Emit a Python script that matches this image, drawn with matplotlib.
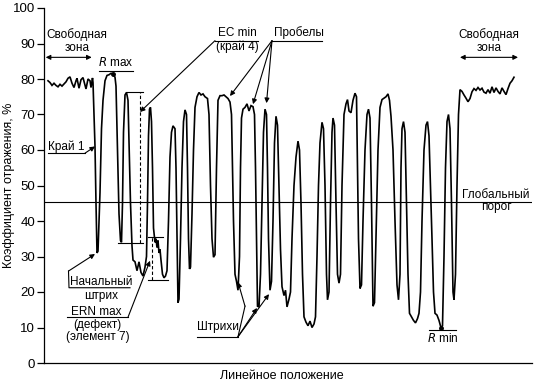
import matplotlib.pyplot as plt

plt.rcParams['font.family'] = ['Liberation Sans', 'DejaVu Sans']

# Профиль отражения при сканировании штрихового кода
position = [4, 6, 8, 10, 12, 14, 16, 18, 20, 22, 24, 26, 28, 30, 32, 33, 35, 37, 39, 41,
            42, 44, 46, 47, 48.5, 49, 50, 51, 52, 53, 54, 55, 56, 57.5, 59, 61, 63, 65, 67, 69,
            71, 72, 73.5, 75, 76.5, 77.5, 78.5, 79.5, 81, 82.5, 84, 85, 86.5, 88, 89, 91, 93, 95, 97, 99,
            101, 102.5, 103.5, 104.5, 105.5, 106.5, 107.5, 108.5, 109.5, 111, 112, 113, 114, 115, 116, 117, 118.5, 120, 121.5, 123,
            124.5, 126, 127.5, 129, 131, 132, 133, 134, 135, 136.5, 138, 139.5, 141, 142.5, 143.5, 144.5, 145.5, 146.5, 148, 149.5,
            151, 153, 155, 157, 159, 161, 163.5, 165, 166.5, 168, 169.5, 171, 172.5, 174, 176, 178, 180, 182, 184, 186,
            187.5, 188.5, 189.5, 191, 192.5, 194, 195.5, 196.5, 197.5, 199, 201, 203, 205, 207, 209, 210.5, 211.5, 212.5, 213.5, 215,
            216.5, 218, 219.5, 221, 222.5, 223.5, 224.5, 226, 227.5, 229, 230.5, 232, 233.5, 235, 236.5, 238, 240, 241.5, 243, 245,
            246.5, 248, 250, 252, 254, 255.5, 257, 258.5, 260, 262, 264, 266, 268, 270, 271.5, 273, 274.5, 276, 278, 279.5,
            281, 282.5, 283.5, 285, 286.5, 288, 289, 290.5, 292, 293.5, 295, 296.5, 298, 300, 302, 303.5, 305, 307, 309, 311,
            312.5, 313.5, 314.5, 316, 317.5, 319, 321, 323, 324.5, 326, 327.5, 329, 330.5, 332, 334, 336, 338, 340, 342, 344,
            345.5, 347, 349, 351, 353, 354.5, 356, 357, 358, 359.5, 361, 362.5, 364, 365.5, 367.5, 369.5, 371.5, 373.5, 375, 376.5,
            378, 380, 382, 383.5, 385, 386.5, 388, 389.5, 391, 393, 395, 397, 398.5, 400, 401.5, 403, 404.5, 406, 407.5, 409,
            410, 411.5, 413, 414.5, 416, 418, 420, 422, 424, 426, 428, 430, 432, 434, 436, 438, 440, 442, 444, 446,
            448, 450, 452, 454, 456, 458, 460, 462, 464, 466, 468, 470]
reflectance = [79.5, 79.0, 78.2, 78.8, 78.2, 77.8, 78.5, 78.0, 78.6, 79.2, 80.2, 80.6, 78.8, 77.6, 79.5, 80.2, 77.4, 79.8, 80.4, 78.3,
               77.2, 80.0, 79.5, 77.6, 80.3, 79.0, 70, 61, 45, 31, 31.5, 40, 48, 66, 74, 79.5, 81, 81.2, 81.6, 81.5,
               80.5, 78, 60, 42, 34.5, 34, 45, 65, 75.5, 76.2, 74, 62, 45, 33, 29, 28.5, 26, 28.5, 25.5, 24.5,
               27, 30, 45, 64, 71.5, 72, 68, 55, 38, 34, 35, 32.5, 34.5, 31, 32, 29, 25, 24, 24.5, 26,
               40, 58, 65, 66.8, 66, 55, 35, 17, 18, 35, 55, 68, 71.3, 70, 55, 35, 26.5, 27, 42, 60,
               72, 75, 76.2, 75.5, 75.8, 75, 74.5, 70, 50, 35, 29.8, 30.5, 55, 74, 75.3, 75.3, 75.5, 75, 74.5, 73.5,
               70, 55, 40, 25, 23, 20.5, 30, 55, 69, 71.5, 72, 73, 71, 72.5, 72.2, 70, 55, 35, 16, 15.8,
               25, 45, 65, 71.5, 70, 55, 35, 20.5, 23, 40, 62, 69.5, 67, 50, 32, 21.5, 19, 20.5, 15.8, 18,
               20, 35, 50, 58, 62.5, 60, 45, 25, 13, 11.5, 10.5, 11.8, 10, 11, 13, 30, 50, 62, 67.8, 66,
               50, 25, 17.8, 20, 45, 65, 69, 67, 45, 25, 22.5, 25, 50, 70, 73, 74.2, 71, 70.5, 74, 76,
               75, 55, 35, 21, 22, 40, 60, 70, 71.5, 69, 45, 16, 17, 35, 60, 72, 74.2, 74.6, 75, 75.8,
               74, 69.5, 60, 40, 22, 17.8, 25, 55, 66, 68, 65, 45, 25, 14, 13, 12, 11.3, 12.5, 14, 20,
               40, 60, 67, 68, 64, 50, 35, 20, 14, 13.5, 12, 9.9, 10.5, 30, 55, 68, 70, 66, 45, 20,
               17.8, 25, 50, 70, 77, 76.5, 75.5, 74.6, 73.6, 74.5, 76.4, 77.3, 76.8, 77.6, 76.9, 77.4, 76.3, 76.0, 77.0, 76.0,
               77.8, 76.2, 77.5, 76.5, 75.8, 77.5, 76.5, 75.6, 77.3, 78.8, 79.5, 80.5]

global_threshold = 45.4
r_max_point = (69, 81.5)
r_min_point = (397, 9.9)

fig = plt.figure(figsize=(5.35, 3.84), dpi=100)
ax = fig.add_axes([44 / 535, 21 / 384, 488 / 535, 355 / 384])

ax.plot(position, reflectance, color='black', lw=1.2, solid_joinstyle='miter')
ax.axhline(global_threshold, color='black', lw=0.8)

ax.set_xlim(0, 488)
ax.set_ylim(0, 100)
ax.set_yticks(range(0, 101, 10))
ax.set_xticks([])
ax.tick_params(axis='y', direction='out', length=5, width=0.9, labelsize=9.5, pad=1.5)
ax.spines['top'].set_visible(False)
ax.spines['right'].set_visible(False)
ax.spines['left'].set_linewidth(0.9)
ax.spines['bottom'].set_linewidth(0.9)
ax.set_ylabel('Коэффициент отражения, %', fontsize=9, va='center')
ax.yaxis.set_label_coords(-35 / 488, 0.5)
ax.set_xlabel('Линейное положение', fontsize=9)
ax.xaxis.set_label_coords(238 / 488, -0.02)

fs = 8.5
line_kw = dict(color='black', lw=0.8)
arrow_kw = dict(arrowstyle='-|>', mutation_scale=7, lw=0.8, color='black', shrinkA=0, shrinkB=0)
both_kw = dict(arrowstyle='<|-|>', mutation_scale=7, lw=0.8, color='black', shrinkA=0, shrinkB=0)

# Свободные зоны
ax.text(33, 90.8, 'Свободная\nзона', ha='center', va='center', fontsize=fs, linespacing=1.1)
ax.annotate('', xy=(1.7, 86.1), xytext=(47.7, 86.1), arrowprops=both_kw)
ax.text(445, 90.8, 'Свободная\nзона', ha='center', va='center', fontsize=fs, linespacing=1.1)
ax.annotate('', xy=(416, 86.1), xytext=(474, 86.1), arrowprops=both_kw)

# R max
ax.text(72, 84.6, r'$\it{R}$ max', ha='center', va='center', fontsize=fs)
ax.plot([55, 89], [82.3, 82.3], **line_kw)
ax.plot(*r_max_point, 'ko', ms=2.5)

# Край 1
ax.text(4, 60.8, 'Край 1', ha='left', va='center', fontsize=fs)
ax.plot([4, 41], [59.1, 59.1], **line_kw)
ax.annotate('', xy=(51, 61), xytext=(41, 59.1), arrowprops=arrow_kw)

# контраст края: прямоугольник
ax.plot([82, 99], [76.3, 76.3], **line_kw)
ax.plot([74, 99], [33.8, 33.8], **line_kw)
ax.plot([95.5, 95.5], [33.8, 76.3], color='black', lw=0.8, ls=(0, (3, 2)))

# ERN max: прямоугольник
ax.plot([104, 119], [35.5, 35.5], **line_kw)
ax.plot([104, 124], [23.4, 23.4], **line_kw)
ax.plot([108, 108], [23.4, 35.5], color='black', lw=0.8, ls=(0, (3, 2)))

# EC min
ax.text(193, 93.0, 'EC min', ha='center', va='center', fontsize=fs)
ax.text(193.5, 89.1, '(край 4)', ha='center', va='center', fontsize=fs)
ax.plot([171, 214], [90.8, 90.8], **line_kw)
ax.annotate('', xy=(96, 70.7), xytext=(171, 90.8), arrowprops=arrow_kw)

# Пробелы
ax.text(255, 93.0, 'Пробелы', ha='center', va='center', fontsize=fs)
ax.plot([228, 278], [90.8, 90.8], **line_kw)
for tip in [(186, 75.2), (209, 72.9), (222.5, 73.2)]:
    ax.annotate('', xy=tip, xytext=(228, 90.8), arrowprops=arrow_kw)

# Начальный штрих
ax.text(57.5, 22.8, 'Начальный', ha='center', va='center', fontsize=fs)
ax.text(57.5, 19.0, 'штрих', ha='center', va='center', fontsize=fs)
ax.plot([86, 25, 24.5], [21.2, 21.2, 25.9], **line_kw)
ax.annotate('', xy=(51, 30.7), xytext=(24.5, 25.9), arrowprops=arrow_kw)

# ERN max
ax.text(52.5, 14.4, 'ERN max', ha='center', va='center', fontsize=fs)
ax.text(53.5, 10.7, '(дефект)', ha='center', va='center', fontsize=fs)
ax.text(53.5, 7.3, '(элемент 7)', ha='center', va='center', fontsize=fs)
ax.plot([23, 84], [12.9, 12.9], **line_kw)
ax.annotate('', xy=(106, 28.8), xytext=(84, 12.9), arrowprops=arrow_kw)

# Штрихи
ax.text(173.5, 10.2, 'Штрихи', ha='center', va='center', fontsize=fs)
ax.plot([153, 194], [7.4, 7.4], **line_kw)
ax.plot([194, 201], [7.4, 16], **line_kw)
ax.annotate('', xy=(194, 22.8), xytext=(201, 16), arrowprops=arrow_kw)
for tip in [(213, 15.5), (225, 19.4)]:
    ax.annotate('', xy=tip, xytext=(194, 7.4), arrowprops=arrow_kw)

# R min
ax.text(398.5, 6.9, r'$\it{R}$ min', ha='center', va='center', fontsize=fs)
ax.plot([385, 412], [9.3, 9.3], **line_kw)
ax.plot(*r_min_point, 'ko', ms=2.5)

# Глобальный порог
ax.text(452, 47.4, 'Глобальный', ha='center', va='center', fontsize=fs)
ax.text(452, 43.9, 'порог', ha='center', va='center', fontsize=fs)

fig.savefig('out.png', dpi=100)
